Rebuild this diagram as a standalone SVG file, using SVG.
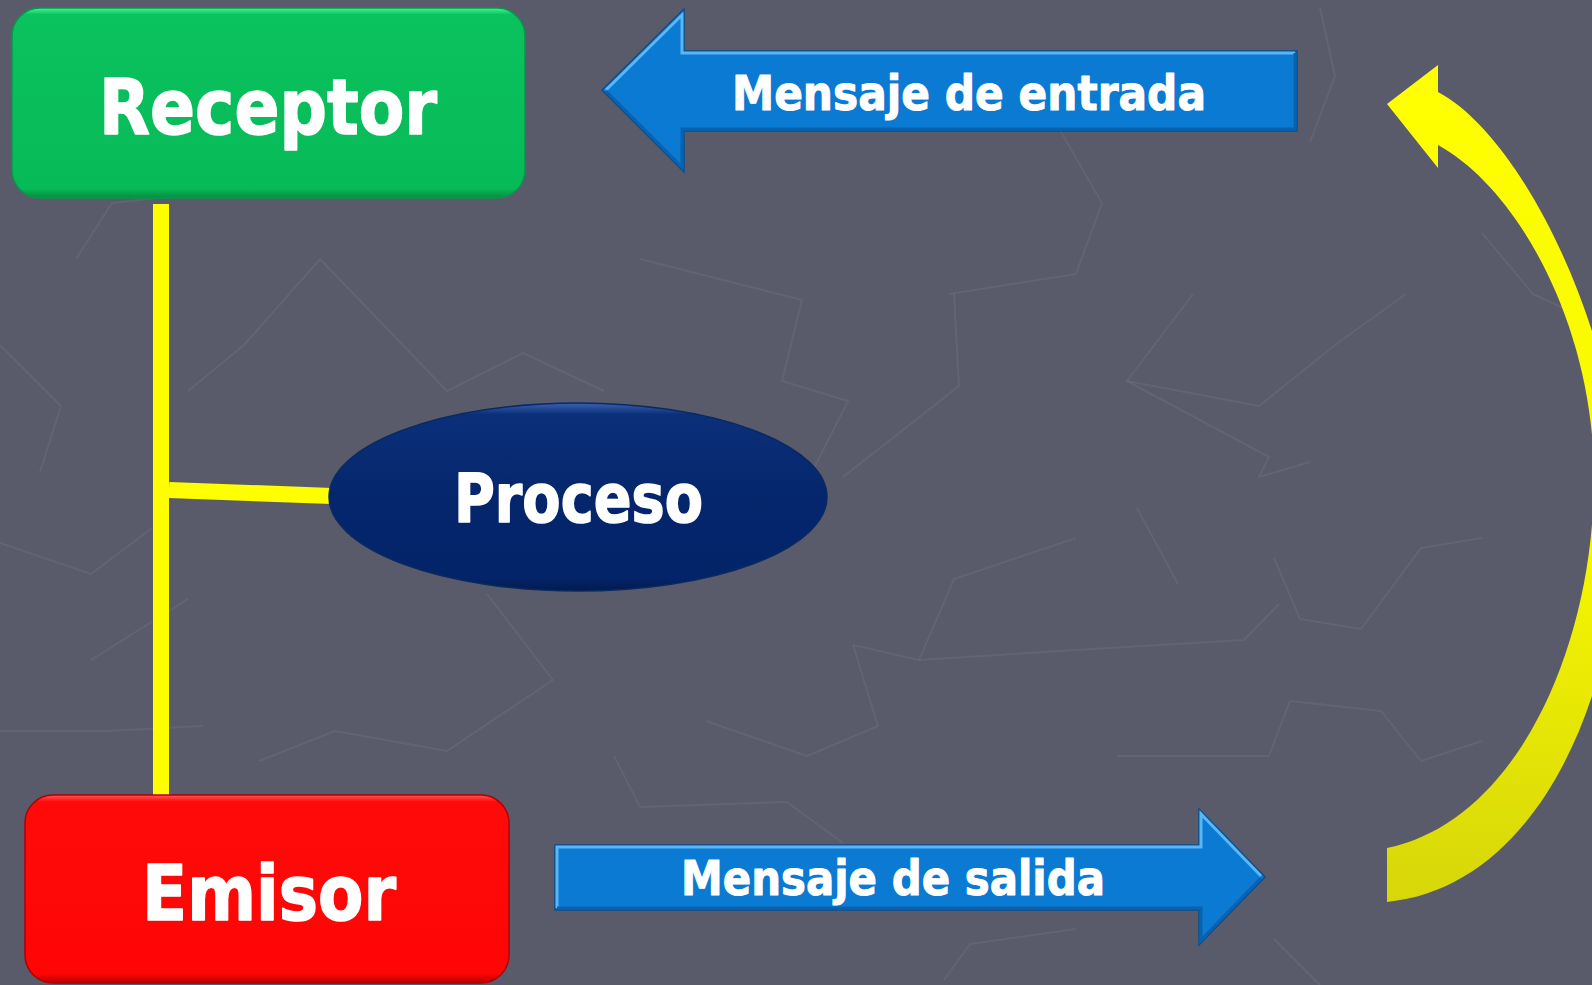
<svg xmlns="http://www.w3.org/2000/svg" width="1592" height="985" viewBox="0 0 1592 985">
<defs>
<style>
.lbl{font-family:"DejaVu Sans","Liberation Sans",sans-serif;font-weight:bold;fill:#ffffff;stroke:#ffffff;stroke-width:1.6;stroke-linejoin:round}
.sm{stroke-width:1}
.bg{fill:none;stroke:#6B6D7B;stroke-width:2;stroke-opacity:0.5;stroke-linejoin:round}
.arrowbody{fill:#0A7AD2;stroke:#0A4F90;stroke-width:1.5;stroke-linejoin:miter}
.hl{fill:none;stroke:#5BB6F6;stroke-width:3;stroke-linejoin:miter}
.sh{fill:none;stroke:#0862B2;stroke-width:3;stroke-linejoin:miter}
.conn{stroke:#FFFF00;stroke-width:16;fill:none;stroke-linecap:butt}
</style>
<linearGradient id="gGreen" x1="0" y1="0" x2="0" y2="1">
<stop offset="0" stop-color="#46F596"/>
<stop offset="0.035" stop-color="#0AC25E"/>
<stop offset="0.95" stop-color="#07BA58"/>
<stop offset="1" stop-color="#058C42"/>
</linearGradient>
<linearGradient id="gRed" x1="0" y1="0" x2="0" y2="1">
<stop offset="0" stop-color="#FF5A5A"/>
<stop offset="0.035" stop-color="#FF0A0A"/>
<stop offset="0.95" stop-color="#FF0505"/>
<stop offset="1" stop-color="#B40000"/>
</linearGradient>
<linearGradient id="gNavy" x1="0" y1="0" x2="0" y2="1">
<stop offset="0" stop-color="#3A62B2"/>
<stop offset="0.06" stop-color="#0B307A"/>
<stop offset="0.5" stop-color="#05266C"/>
<stop offset="0.93" stop-color="#04246A"/>
<stop offset="1" stop-color="#021A4E"/>
</linearGradient>
<linearGradient id="gYellow" gradientUnits="userSpaceOnUse" x1="0" y1="60" x2="0" y2="905">
<stop offset="0" stop-color="#FFFF00"/>
<stop offset="0.55" stop-color="#F8F800"/>
<stop offset="1" stop-color="#D6D60A"/>
</linearGradient>
</defs>

<rect x="0" y="0" width="1592" height="985" fill="#595B6A"/>

<g id="background-texture">
<polyline class="bg" points="320,259 447,391 523,353 604,391"/>
<polyline class="bg" points="640,259 802,300 782,381 848,401 812,472"/>
<polyline class="bg" points="949,294 1076,274 1102,203 1061,132"/>
<polyline class="bg" points="954,294 959,386 843,477"/>
<polyline class="bg" points="1193,294 1127,381 1259,406 1335,345 1406,294"/>
<polyline class="bg" points="1127,381 1269,457 1259,477 1310,462"/>
<polyline class="bg" points="1076,538 954,579 919,660 853,645"/>
<polyline class="bg" points="1137,508 1178,584"/>
<polyline class="bg" points="1274,558 1300,619 1361,629 1421,548 1482,538"/>
<polyline class="bg" points="919,660 1076,650 1244,640 1279,604"/>
<polyline class="bg" points="706,721 807,756 878,726 853,645"/>
<polyline class="bg" points="614,756 640,807 787,802 843,843"/>
<polyline class="bg" points="1117,756 1269,756 1290,701 1381,711 1421,761 1482,741"/>
<polyline class="bg" points="487,594 553,680 447,751 335,731 259,761"/>
<polyline class="bg" points="0,543 91,574 152,528"/>
<polyline class="bg" points="0,731 107,731 203,726"/>
<polyline class="bg" points="91,660 188,599"/>
<polyline class="bg" points="944,980 970,944 1076,929"/>
<polyline class="bg" points="1274,939 1320,985"/>
<polyline class="bg" points="0,345 61,406 40,472"/>
<polyline class="bg" points="76,259 112,203 203,193"/>
<polyline class="bg" points="188,391 244,345 320,259"/>
<polyline class="bg" points="1482,233 1533,294 1589,320"/>
<polyline class="bg" points="1320,8 1335,76 1310,142"/>
</g>

<g id="connectors">
<line class="conn" x1="161" y1="204" x2="161" y2="796"/>
<line class="conn" x1="169" y1="490" x2="332" y2="496" stroke-width="15"/>
</g>

<g id="receptor">
<rect x="12" y="8" width="513" height="190" rx="28" ry="28" fill="url(#gGreen)" stroke="#06994A" stroke-width="1.5"/>
<text class="lbl" x="99" y="134" font-size="76" textLength="338" lengthAdjust="spacingAndGlyphs">Receptor</text>
</g>

<g id="emisor">
<rect x="25" y="795" width="484" height="188" rx="28" ry="28" fill="url(#gRed)" stroke="#B00000" stroke-width="1.5"/>
<text class="lbl" x="142" y="920" font-size="76" textLength="254" lengthAdjust="spacingAndGlyphs">Emisor</text>
</g>

<g id="proceso">
<ellipse cx="578" cy="497" rx="249" ry="94" fill="url(#gNavy)" stroke="#0A2A62" stroke-width="1.5"/>
<text class="lbl" x="454" y="522" font-size="67" textLength="249" lengthAdjust="spacingAndGlyphs">Proceso</text>
</g>

<g id="mensaje-entrada">
<path class="arrowbody" d="M602,90 L684,9 L684,51 L1297,51 L1297,131 L684,131 L684,172 Z"/>
<polyline class="hl" points="606,90 682,15 682,53 1295,53"/>
<polyline class="sh" points="606,91 682,167 682,129 1295,129 1295,53"/>
<text class="lbl sm" x="732" y="110" font-size="48" textLength="474" lengthAdjust="spacingAndGlyphs">Mensaje de entrada</text>
</g>

<g id="mensaje-salida">
<path class="arrowbody" d="M555,845 L1199,845 L1199,809 L1265,877 L1199,945 L1199,910 L555,910 Z"/>
<polyline class="hl" points="557,908 557,847 1201,847 1201,814 1261,876"/>
<polyline class="sh" points="1261,878 1201,940 1201,908 557,908"/>
<text class="lbl sm" x="681" y="895" font-size="48" textLength="424" lengthAdjust="spacingAndGlyphs">Mensaje de salida</text>
</g>

<g id="curved-arrow">
<path fill="url(#gYellow)" d="M1387,848 C1515,822 1593,650 1594,480 C1595,330 1520,190 1438,145 L1438,168 L1387,104 L1438,65 L1438,92 C1525,138 1620,340 1622,500 C1622,700 1535,888 1387,902 Z"/>
</g>
</svg>
